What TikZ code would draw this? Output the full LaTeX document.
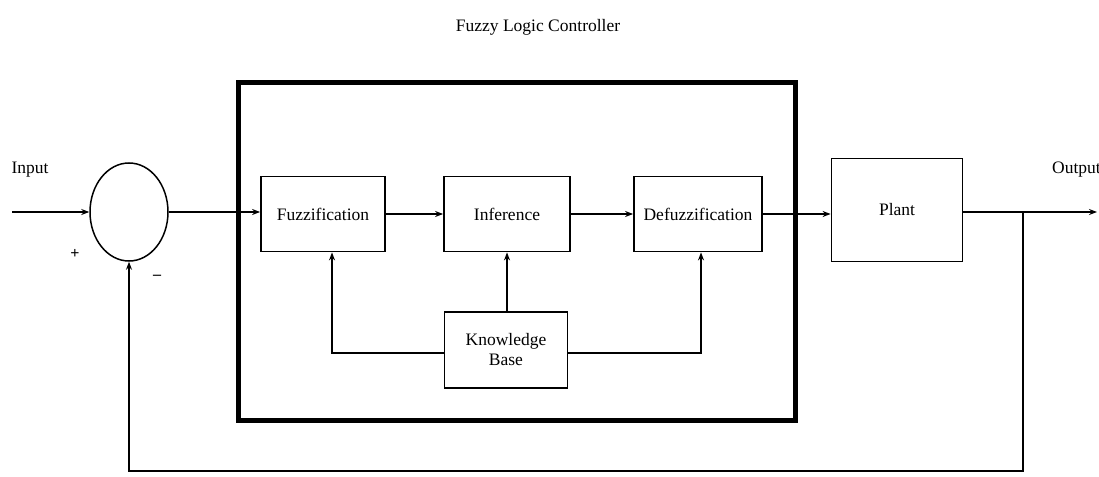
\documentclass[tikz,border=0pt]{standalone}
\usepackage{fontspec}
\setmainfont{Liberation Serif}
\usetikzlibrary{arrows.meta,shapes.geometric}
\begin{document}
\begin{tikzpicture}[x=1pt,y=-1pt,
  block/.style={draw,line width=1.8pt,inner sep=0pt},
  lbl/.style={font=\fontsize{17.5}{19}\selectfont},
  sign/.style={font=\fontsize{16}{18}\selectfont\bfseries},
  wire/.style={line width=1.3pt},
  arr/.style={wire,-{Stealth[length=8pt,width=6pt]}}]
\useasboundingbox (0,0) rectangle (1099,476);
\fill[white] (0,0) rectangle (1099,476);

% title and controller frame
\node[lbl] (title) at (538,27) {Fuzzy Logic Controller};
\draw[line width=5pt] (238,83) rectangle (795,420);

% summing junction
\node[draw,ellipse,line width=1.5pt,minimum width=78pt,minimum height=98pt,inner sep=0pt] (sum) at (129,212) {};
\node[lbl] (inlbl) at (30,170) {Input};
\node[sign] (plus) at (75,254) {+};
\node[sign] (minus) at (157,277) {--};

% controller blocks
\node[block,lbl,minimum width=124pt,minimum height=75pt] (fuzz) at (323,214) {Fuzzification};
\node[block,lbl,minimum width=126pt,minimum height=75pt] (inf) at (507,214) {Inference};
\node[block,lbl,minimum width=128pt,minimum height=75pt] (defuzz) at (698,214) {Defuzzification};
\node[block,lbl,minimum width=123pt,minimum height=76pt,align=center] (kb) at (506,350) {Knowledge\\[1pt]Base};
\node[block,lbl,minimum width=131pt,minimum height=103pt] (plant) at (897,210) {Plant};

% output label and feedback coordinates
\node[lbl,anchor=west,inner sep=0pt] (outlbl) at (1052,170) {Output};
\coordinate (in) at (12,212);
\coordinate (out) at (1097,212);
\coordinate (tap) at (1023,212);
\coordinate (fbR) at (1023,471);
\coordinate (fbL) at (129,471);
\coordinate (kbL) at (332,353);
\coordinate (kbR) at (701,353);

% forward path
\draw[arr] (in) -- (sum.west);
\draw[arr] (sum.east) -- (sum.east -| fuzz.west);
\draw[arr] (fuzz.east) -- (fuzz.east -| inf.west);
\draw[arr] (inf.east) -- (inf.east -| defuzz.west);
\draw[arr] (defuzz.east) -- (defuzz.east -| plant.west);
\draw[arr] (plant.east |- out) -- (out);

% knowledge base links
\draw[arr] (kb.north -| inf.south) -- (inf.south);
\draw[arr] (kb.west |- kbL) -- (kbL) -- (kbL |- fuzz.south);
\draw[arr] (kb.east |- kbR) -- (kbR) -- (kbR |- defuzz.south);

% feedback path
\draw[arr] (tap) -- (fbR) -- (fbL) -- (sum.south);
\end{tikzpicture}
\end{document}
